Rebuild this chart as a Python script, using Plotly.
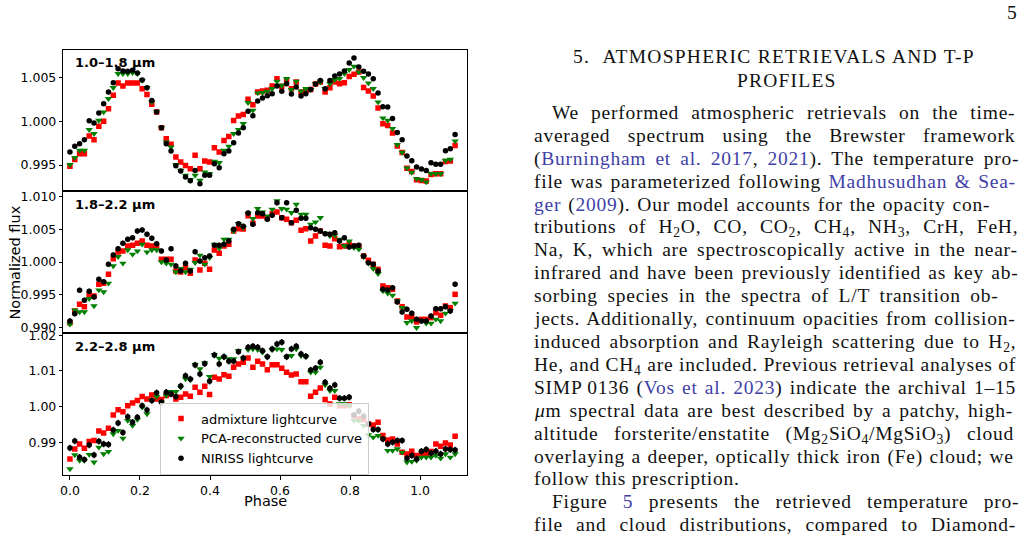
import plotly.graph_objects as go

# ---------------- data ----------------
phase = [0.0, 0.01375, 0.0275, 0.04125, 0.055, 0.06875, 0.0825, 0.09625, 0.11, 0.12375,
         0.1375, 0.15125, 0.165, 0.17875, 0.1925, 0.20625, 0.22, 0.23375, 0.2475, 0.26125,
         0.275, 0.28875, 0.3025, 0.31625, 0.33, 0.34375, 0.3575, 0.37125, 0.385, 0.39875,
         0.4125, 0.42625, 0.44, 0.45375, 0.4675, 0.48125, 0.495, 0.50875, 0.5225, 0.53625,
         0.55, 0.56375, 0.5775, 0.59125, 0.605, 0.61875, 0.6325, 0.64625, 0.66, 0.67375,
         0.6875, 0.70125, 0.715, 0.72875, 0.7425, 0.75625, 0.77, 0.78375, 0.7975, 0.81125,
         0.825, 0.83875, 0.8525, 0.86625, 0.88, 0.89375, 0.9075, 0.92125, 0.935, 0.94875,
         0.9625, 0.97625, 0.99, 1.00375, 1.0175, 1.03125, 1.045, 1.05875, 1.0725, 1.08625, 1.1]

# flux deviations in parts per thousand: flux = 1 + value/1000
b1_admix = [-5.15, -4.35, -3.70, -3.70, -1.68, -2.10, -0.57, 0.00, 1.45, 2.98,
            4.39, 4.05, 4.39, 4.39, 4.39, 3.74, 3.09, 1.95, 1.07, -0.73,
            -1.98, -2.63, -4.08, -4.66, -5.04, -5.42, -3.89, -5.42, -4.54, -4.66,
            -3.02, -3.51, -2.18, -1.72, 0.11, 0.61, 0.80, 2.52, 1.91, 3.36,
            3.47, 3.55, 4.05, 4.89, 4.01, 4.77, 3.74, 4.50, 3.36, 3.55,
            3.66, 4.28, 4.50, 3.36, 3.86, 4.50, 4.31, 4.43, 5.15, 5.38,
            5.65, 3.89, 3.47, 2.90, 1.53, -0.27, -0.46, -1.34, -2.82, -3.55,
            -5.38, -5.73, -6.68, -6.76, -6.83, -6.07, -5.99, -5.99, -4.58, -4.54, -2.75]
b1_pca = [-4.96, -4.16, -3.32, -3.32, -0.95, -1.41, 0.11, 1.07, 2.60, 3.86,
          5.46, 5.46, 5.46, 5.57, 5.46, 4.69, 3.86, 2.21, 1.15, -0.73,
          -2.37, -2.94, -4.96, -5.61, -6.18, -6.68, -6.18, -6.76, -5.80, -5.99,
          -4.58, -4.73, -3.32, -2.86, -1.41, -0.95, -0.27, 2.14, 1.26, 3.24,
          3.28, 3.44, 3.74, 4.58, 4.12, 4.89, 3.63, 4.58, 3.47, 3.74,
          3.63, 4.28, 4.50, 3.74, 4.31, 4.77, 4.89, 5.46, 5.92, 6.30,
          5.65, 5.00, 4.39, 3.74, 2.21, 0.38, 0.11, -0.84, -2.67, -3.55,
          -5.34, -5.84, -6.57, -6.68, -6.95, -5.99, -5.99, -5.99, -4.47, -4.35, -2.25]
b1_niriss = [-3.51, -2.86, -2.56, -2.10, 0.08, -0.19, 0.95, 2.02, 3.36, 4.43,
             6.03, 5.76, 5.73, 5.84, 5.53, 4.73, 3.86, 2.40, 1.07, -0.73,
             -2.56, -3.40, -5.08, -5.69, -6.37, -6.79, -5.61, -7.14, -6.18, -6.18,
             -4.85, -5.31, -3.70, -3.40, -2.44, -1.34, -0.73, 1.15, 0.65, 2.33,
             2.67, 2.94, 3.17, 4.05, 3.44, 4.31, 3.13, 3.93, 2.90, 3.17,
             3.66, 4.28, 4.69, 3.74, 4.69, 5.19, 5.42, 5.76, 6.68, 7.25,
             6.22, 5.73, 5.42, 4.89, 3.24, 1.68, 1.64, 0.34, -1.26, -2.10,
             -3.97, -4.50, -5.23, -5.46, -5.61, -4.73, -4.92, -4.92, -3.36, -3.13, -1.49]

b2_admix = [-9.29, -7.50, -6.48, -6.84, -4.95, -5.20, -3.42, -3.27, -1.89, 0.51,
            1.53, 1.68, 2.45, 2.55, 2.86, 3.21, 2.55, 2.45, 2.45, 0.41,
            0.41, 0.41, -1.38, -1.53, -0.87, -1.73, 0.31, -1.22, -0.20, -1.12,
            1.84, 1.33, 2.45, 2.70, 4.74, 5.10, 5.05, 7.09, 5.92, 7.04,
            7.04, 6.68, 7.40, 7.65, 6.79, 6.53, 6.02, 6.38, 4.85, 5.10,
            3.21, 3.98, 4.74, 2.55, 2.45, 3.57, 2.35, 2.45, 2.70, 2.45,
            2.45, 0.92, 0.26, -0.36, -1.12, -3.67, -3.93, -4.18, -5.97, -6.84,
            -8.42, -8.42, -9.18, -8.78, -8.78, -8.52, -7.76, -8.16, -6.73, -6.99, -4.95]
b2_pca = [-9.54, -7.35, -7.65, -7.65, -5.61, -6.73, -4.29, -4.59, -3.27, -0.61,
          0.82, -0.20, 1.84, 1.17, 1.68, 2.70, 1.53, 1.84, 1.84, 0.00,
          -0.20, -0.36, -1.53, -1.02, -1.53, -1.12, -0.10, 1.02, -0.36, 0.66,
          2.70, 2.09, 3.47, 3.47, 4.74, 5.87, 5.26, 7.45, 6.63, 8.16,
          7.65, 7.04, 8.06, 9.34, 8.16, 8.06, 7.55, 8.83, 7.30, 7.30,
          5.77, 6.12, 6.79, 4.39, 3.98, 4.08, 3.47, 2.45, 3.21, 2.19,
          1.94, 0.77, -0.20, -1.02, -1.79, -4.44, -4.80, -5.10, -5.97, -6.99,
          -9.29, -9.03, -10.05, -9.03, -9.39, -9.39, -8.78, -9.03, -7.86, -7.50, -6.33]
b2_niriss = [-9.03, -7.91, -4.34, -5.87, -4.49, -5.36, -2.65, -3.01, -0.36, 1.07,
             2.04, 2.86, 3.47, 3.72, 4.74, 4.90, 4.23, 3.62, 2.81, 1.68,
             0.31, 2.04, -0.61, -1.38, -0.20, -1.38, 1.58, 0.15, 0.66, 0.92,
             2.55, 2.55, 2.70, 3.21, 5.00, 5.87, 5.46, 7.50, 5.77, 7.55,
             7.40, 6.53, 7.14, 9.08, 6.79, 9.08, 6.02, 7.91, 6.68, 6.68,
             5.26, 5.00, 4.74, 4.34, 4.23, 4.49, 3.21, 3.72, 2.30, 2.45,
             2.55, 0.92, -0.10, -0.36, -1.38, -4.18, -4.29, -3.93, -6.12, -7.65,
             -7.24, -7.86, -8.78, -9.03, -9.03, -8.27, -7.14, -7.14, -6.84, -7.50, -3.42]

b3_admix = [-14.63, -11.84, -10.44, -11.65, -9.79, -9.51, -6.80, -7.36, -6.06, -2.33,
            -0.84, -1.40, 0.28, 1.03, 1.68, 2.80, 2.14, 3.26, 2.14, 1.96,
            3.08, 3.54, 2.14, 2.61, 3.54, 2.89, 5.41, 4.01, 5.69, 3.36,
            8.20, 7.74, 8.95, 8.48, 11.00, 11.93, 12.40, 13.61, 11.00, 12.68,
            11.93, 10.35, 11.74, 11.74, 10.72, 9.60, 8.85, 9.13, 6.99, 6.99,
            2.89, 4.01, 5.22, 1.96, 0.75, 2.61, 0.28, 0.28, 0.56, -2.52,
            -3.45, -3.63, -4.85, -5.13, -4.38, -8.11, -9.32, -9.04, -10.44, -12.77,
            -13.23, -12.49, -13.70, -13.05, -13.23, -12.58, -10.44, -11.09, -10.16, -10.72, -8.29]
b3_pca = [-17.43, -13.51, -15.10, -15.10, -13.42, -15.56, -11.37, -13.23, -12.58, -7.64,
          -6.71, -8.85, -3.91, -5.31, -3.63, -0.19, -2.05, 1.68, 2.80, 1.21,
          3.08, 4.19, 4.19, 5.41, 7.74, 7.46, 11.74, 10.53, 12.21, 8.39,
          14.45, 13.51, 13.79, 13.33, 13.33, 15.66, 13.51, 15.94, 16.12, 15.94,
          15.19, 13.79, 15.94, 16.12, 15.94, 13.79, 14.26, 16.12, 14.26, 13.98,
          9.60, 9.60, 11.00, 6.06, 4.47, 4.47, 0.75, 0.75, 0.28, -3.91,
          -3.91, -5.31, -7.92, -8.57, -8.11, -8.85, -12.30, -12.30, -11.84, -12.77,
          -15.56, -15.38, -15.10, -14.17, -14.17, -14.17, -13.70, -14.45, -13.23, -14.17, -13.23]
b3_niriss = [-11.56, -9.60, -14.17, -14.82, -10.72, -13.51, -9.69, -10.44, -10.62, -6.52,
             -4.57, -7.27, -2.80, -4.38, -2.98, 0.28, -0.93, 1.68, 3.91, 1.21,
             4.01, 3.54, 2.80, 5.78, 8.67, 7.74, 11.65, 9.13, 12.02, 7.08,
             14.45, 11.93, 13.98, 12.68, 12.68, 15.38, 13.61, 16.59, 16.87, 16.59,
             15.66, 13.98, 16.12, 17.52, 17.99, 13.98, 16.12, 16.87, 14.73, 14.07,
             10.25, 10.72, 12.40, 6.80, 5.13, 6.06, 2.33, 2.33, 2.61, -2.33,
             -1.30, -2.70, -4.85, -6.43, -6.43, -9.04, -10.44, -9.97, -9.51, -9.51,
             -14.45, -13.70, -14.63, -12.49, -12.02, -13.05, -12.49, -13.23, -11.84, -12.02, -12.12]

band_labels = ["1.0–1.8 μm", "1.8–2.2 μm", "2.2–2.8 μm"]
series_names = ["admixture lightcurve", "PCA-reconstructed curve", "NIRISS lightcurve"]
x_tick_vals = [0.0, 0.2, 0.4, 0.6, 0.8, 1.0]
x_tick_text = ["0.0", "0.2", "0.4", "0.6", "0.8", "1.0"]
y_ticks = [
    ([0.995, 1.000, 1.005], ["0.995", "1.000", "1.005"]),
    ([0.990, 0.995, 1.000, 1.005, 1.010], ["0.990", "0.995", "1.000", "1.005", "1.010"]),
    ([0.99, 1.00, 1.01, 1.02], ["0.99", "1.00", "1.01", "1.02"]),
]
y_ranges = [[0.99203, 1.00817], [0.98913, 1.01087], [0.98087, 1.0206]]
niriss_err = [0.00015, 0.0004, 0.0009]

# ---------------- layout helpers ----------------
W, H = 1025, 540
def px(x):
    return x / W
def py(y):
    return 1 - y / H

SANS = "DejaVu Sans"
SERIF = "Liberation Serif"

panel_tops = [50, 191, 333]
panel_bots = [191, 333, 475]
x_dom = [px(63.3), px(467)]
x_range = [-0.019, 1.134]

bands = [(b1_admix, b1_pca, b1_niriss), (b2_admix, b2_pca, b2_niriss), (b3_admix, b3_pca, b3_niriss)]

fig = go.Figure()
for i, (adm, pca, nir) in enumerate(bands):
    sfx = "" if i == 0 else str(i + 1)
    show = (i == 2)
    fig.add_trace(go.Scatter(
        x=phase, y=[1 + v / 1000 for v in adm], mode="markers",
        marker=dict(symbol="square", size=5.5, color="#ff0000", line=dict(width=0)),
        name=series_names[0], showlegend=show, xaxis="x" + sfx, yaxis="y" + sfx))
    fig.add_trace(go.Scatter(
        x=phase, y=[1 + v / 1000 for v in pca], mode="markers",
        marker=dict(symbol="triangle-down", size=6.5, color="#008000", line=dict(width=0)),
        name=series_names[1], showlegend=show, xaxis="x" + sfx, yaxis="y" + sfx))
    fig.add_trace(go.Scatter(
        x=phase, y=[1 + v / 1000 for v in nir], mode="markers",
        marker=dict(symbol="circle", size=5.5, color="#000000", line=dict(width=0)),
        error_y=dict(type="constant", value=niriss_err[i], color="#000000", thickness=1.3, width=0),
        name=series_names[2], showlegend=show, xaxis="x" + sfx, yaxis="y" + sfx))

layout = dict(
    width=W, height=H, margin=dict(l=0, r=0, t=0, b=0, autoexpand=False),
    paper_bgcolor="white", plot_bgcolor="white",
    font=dict(family=SANS, color="black", size=12.5),
    legend=dict(x=px(160), y=py(402.5), xanchor="left", yanchor="top",
                bgcolor="rgba(255,255,255,0.8)", bordercolor="#cccccc", borderwidth=1,
                font=dict(family=SANS, size=13, color="#000000"), tracegroupgap=0,
                itemwidth=30),
    showlegend=True,
)

for i in range(3):
    sfx = "" if i == 0 else str(i + 1)
    xa = dict(domain=x_dom, range=x_range, anchor="y" + sfx, showline=True, mirror=True,
              linecolor="black", linewidth=1, showgrid=False, zeroline=False)
    if i < 2:
        xa.update(showticklabels=False, ticks="")
    else:
        xa.update(ticks="outside", ticklen=3.5, tickwidth=1, tickcolor="black",
                  tickvals=x_tick_vals, ticktext=x_tick_text,
                  tickfont=dict(family=SANS, size=12.5, color="black"))
    ya = dict(domain=[py(panel_bots[i]), py(panel_tops[i])], range=y_ranges[i],
              anchor="x" + sfx, showline=True, mirror=True, linecolor="black", linewidth=1,
              showgrid=False, zeroline=False, ticks="outside", ticklen=3.5, tickwidth=1,
              tickcolor="black", tickvals=y_ticks[i][0], ticktext=y_ticks[i][1],
              tickfont=dict(family=SANS, size=12.5, color="black"))
    layout["xaxis" + sfx] = xa
    layout["yaxis" + sfx] = ya

fig.update_layout(**layout)

def note(x, y, text, size, family=SANS, xanchor="center", yanchor="middle", angle=0, color="black"):
    return dict(x=px(x), y=py(y), xref="paper", yref="paper", xanchor=xanchor,
                yanchor=yanchor, showarrow=False, text=text, textangle=angle,
                font=dict(family=family, size=size, color=color))

ann = []
label_y = [62.7, 204.3, 346.7]
for i in range(3):
    ann.append(note(72.5, label_y[i], "<b>" + band_labels[i] + "</b>", 13, xanchor="left"))
ann.append(note(14, 262.5, "Normalized flux", 14.5, angle=-90))
ann.append(note(265, 500.5, "Phase", 14.5))

# ---------------- right column text ----------------
BL = "#3f3fa8"
TXT = "#111111"
def link(t):
    return '<span style="color:%s">%s</span>' % (BL, t)

ann.append(note(1012, 13, "5", 19.5, family=SERIF, color=TXT))
ann.append(note(774, 57,
                '<span style="letter-spacing:1.25px">5.\u00a0\u00a0ATMOSPHERIC RETRIEVALS AND T-P</span>',
                19.5, family=SERIF, color=TXT))
ann.append(note(787, 80, '<span style="letter-spacing:1.2px">PROFILES</span>', 19.5,
                family=SERIF, color=TXT))

# (left x in px, text, extra word spacing used to imitate justified lines)
body = [
    (550, "We performed atmospheric retrievals on the time-", 6.5),
    (532, "averaged spectrum using the Brewster framework", 11.7),
    (532, "(" + link("Burningham et al. 2017") + ", " + link("2021") + "). The temperature pro-", 3.6),
    (532, "file was parameterized following " + link("Madhusudhan &amp; Sea-"), 1.9),
    (532, link("ger") + " (" + link("2009") + "). Our model accounts for the opacity con-", 1.4),
    (532, "tributions of H<sub>2</sub>O, CO, CO<sub>2</sub>, CH<sub>4</sub>, NH<sub>3</sub>, CrH, FeH,", 6.6),
    (532, "Na, K, which are spectroscopically active in the near-", 3.2),
    (532, "infrared and have been previously identified as key ab-", 1.8),
    (532, "sorbing species in the spectra of L/T transition ob-", 4.1),
    (532, "jects. Additionally, continuum opacities from collision-", 1.6),
    (532, "induced absorption and Rayleigh scattering due to H<sub>2</sub>,", 3.0),
    (532, "He, and CH<sub>4</sub> are included. Previous retrieval analyses of", 0.0),
    (532, "SIMP\u20090136 (" + link("Vos et al. 2023") + ") indicate the archival 1–15", 1.6),
    (532, "<i>μ</i>m spectral data are best described by a patchy, high-", 2.3),
    (532, "altitude forsterite/enstatite (Mg<sub>2</sub>SiO<sub>4</sub>/MgSiO<sub>3</sub>) cloud", 10.0),
    (532, "overlaying a deeper, optically thick iron (Fe) cloud; we", 1.0),
    (532, "follow this prescription.", 0.0),
    (550, "Figure " + link("5") + " presents the retrieved temperature pro-", 9.8),
    (532, "file and cloud distributions, compared to Diamond-", 7.4),
]
for k, (x0, t, ws) in enumerate(body):
    yy = 114 + 22.9 * k
    styled = '<span style="letter-spacing:0.75px;word-spacing:%.1fpx">%s</span>' % (ws, t)
    ann.append(note(x0, yy - 14, styled, 19.5, family=SERIF, xanchor="left",
                    yanchor="top", color=TXT))

fig.update_layout(annotations=ann)
fig.write_html("out.html")
